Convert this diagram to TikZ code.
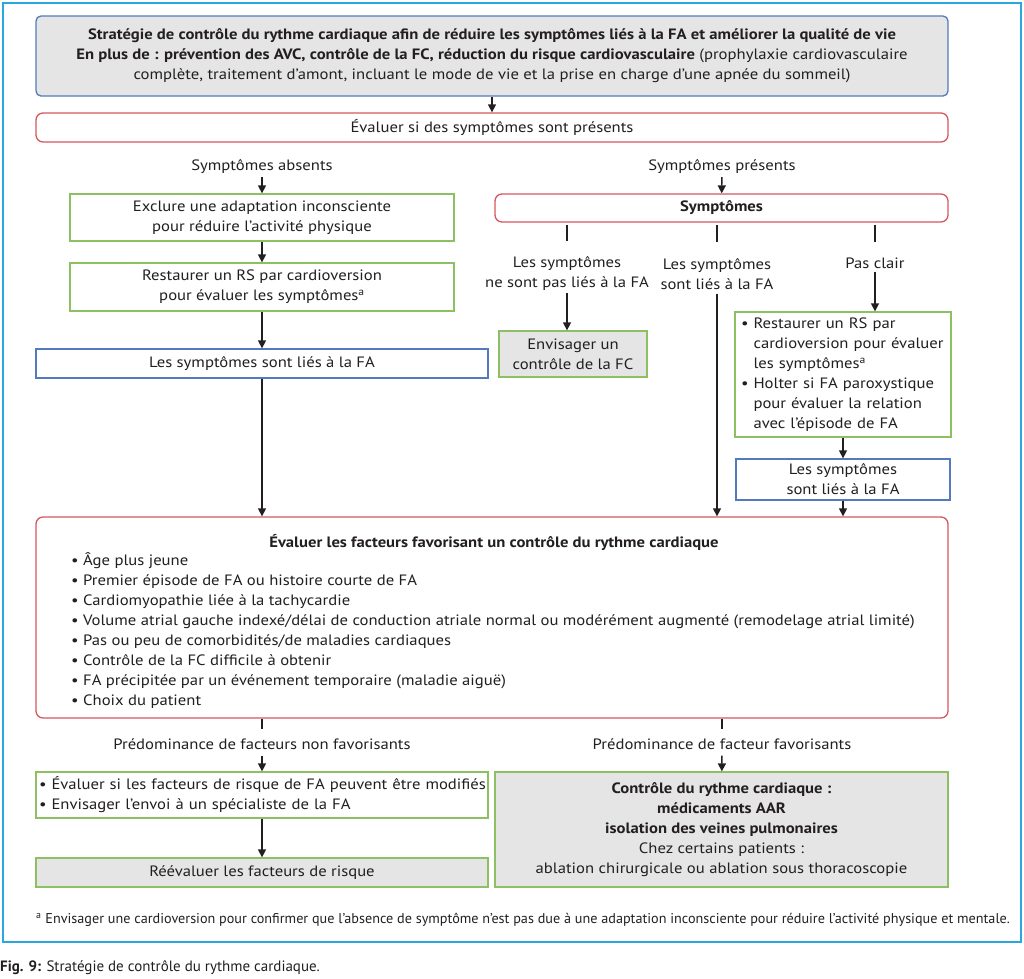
\documentclass[tikz,border=0pt]{standalone}
\usepackage{fontspec}
\setmainfont{PT Sans}[FakeStretch=1.11]
\newfontfamily\narrowfont{PT Sans}
\usetikzlibrary{arrows.meta}
\definecolor{framecyan}{HTML}{2BA6DE}
\definecolor{boxblue}{HTML}{5479BC}
\definecolor{boxred}{HTML}{D4575F}
\definecolor{boxgreen}{HTML}{8DC063}
\definecolor{boxgray}{HTML}{E5E5E6}
\definecolor{txt}{HTML}{231F20}
\tikzset{
  box/.style={draw, line width=1.3pt, inner sep=0pt, align=center, fill=white},
  redbox/.style={box, draw=boxred, rounded corners=7pt},
  bluebox/.style={box, draw=boxblue},
  greenbox/.style={box, draw=boxgreen},
  graybox/.style={box, draw=boxgreen, fill=boxgray},
  lab/.style={align=center, inner sep=0pt},
  conn/.style={line width=1.4pt, draw=txt},
  arr/.style={conn, -{Triangle[width=8pt,length=8pt]}},
}
\begin{document}
\begin{tikzpicture}[x=1pt,y=-1pt,font=\fontsize{15}{20}\selectfont,text=txt]
\useasboundingbox (0,0) rectangle (1024,978);
\draw[framecyan, line width=2.5pt] (3,3) rectangle (1021,942);

\node[bluebox, fill=boxgray, rounded corners=5pt, minimum width=912pt, minimum height=80pt] (strategie) at (492,56)
  {\textbf{Stratégie de contrôle du rythme cardiaque afin de réduire les symptômes liés à la FA et améliorer la qualité de vie}\\
   \textbf{En plus de : prévention des AVC, contrôle de la FC, réduction du risque cardiovasculaire} (prophylaxie cardiovasculaire\\
   complète, traitement d’amont, incluant le mode de vie et la prise en charge d’une apnée du sommeil)};
\node[redbox, minimum width=912pt, minimum height=29pt] (evaluer) at (492,127.5) {Évaluer si des symptômes sont présents};

\node[lab] (absents) at (262,167) {Symptômes absents};
\node[lab] (presents) at (722,167) {Symptômes présents};

% left branch
\node[greenbox, minimum width=384pt, minimum height=47pt] (exclure) at (262,217.5) {Exclure une adaptation inconsciente\\pour réduire l’activité physique};
\node[greenbox, minimum width=384pt, minimum height=48pt] (restaurer) at (262,287) {Restaurer un RS par cardioversion\\pour évaluer les symptômes\textsuperscript{a}};
\node[bluebox, minimum width=452pt, minimum height=29pt] (liesg) at (262,363.5) {Les symptômes sont liés à la FA};

% right branch
\node[redbox, minimum width=453pt, minimum height=28pt] (symptomes) at (721.5,208) {\textbf{Symptômes}};
\node[lab] (nonlies) at (567,274) {Les symptômes\\ne sont pas liés à la FA};
\node[lab] (lies) at (717,274) {Les symptômes\\sont liés à la FA};
\node[lab] (pasclair) at (875,263) {Pas clair};
\node[graybox, minimum width=148pt, minimum height=46pt] (envfc) at (573,354) {Envisager un\\contrôle de la FC};
\node[greenbox, text width=204pt, inner xsep=6pt, minimum height=125pt, align=left] (clair) at (843,374.5)
  {\begin{tabular}{@{}l@{\hspace{5pt}}l@{}}
   •&Restaurer un RS par\\
    &cardioversion pour évaluer\\
    &les symptômes\textsuperscript{a}\\
   •&Holter si FA paroxystique\\
    &pour évaluer la relation\\
    &avec l’épisode de FA
   \end{tabular}};
\node[bluebox, minimum width=214pt, minimum height=41pt] (liesd) at (843,479.5) {Les symptômes\\sont liés à la FA};

% facteurs
\node[redbox, minimum width=912pt, minimum height=201pt] (facteurs) at (492,617.5) {};
\node[lab] (facteurstitre) at (494,542) {\textbf{Évaluer les facteurs favorisant un contrôle du rythme cardiaque}};
\node[lab, anchor=north west, align=left] (facteursliste) at (71,552)
  {• Âge plus jeune\\
   • Premier épisode de FA ou histoire courte de FA\\
   • Cardiomyopathie liée à la tachycardie\\
   • Volume atrial gauche indexé/délai de conduction atriale normal ou modérément augmenté (remodelage atrial limité)\\
   • Pas ou peu de comorbidités/de maladies cardiaques\\
   • Contrôle de la FC difficile à obtenir\\
   • FA précipitée par un événement temporaire (maladie aiguë)\\
   • Choix du patient};

\node[lab] (nonfav) at (262,744) {Prédominance de facteurs non favorisants};
\node[lab] (fav) at (722,744) {Prédominance de facteur favorisants};
\node[greenbox, text width=446pt, inner xsep=3pt, minimum height=46pt, align=left] (modifies) at (262,795)
  {\begin{tabular}{@{}l@{}}
   • Évaluer si les facteurs de risque de FA peuvent être modifiés\\
   • Envisager l’envoi à un spécialiste de la FA
   \end{tabular}};
\node[graybox, minimum width=452pt, minimum height=29pt] (reevaluer) at (262,872.5) {Réévaluer les facteurs de risque};
\node[graybox, minimum width=453pt, minimum height=115pt] (controle) at (721.5,829.5)
  {\textbf{Contrôle du rythme cardiaque :}\\
   \textbf{médicaments AAR}\\
   \textbf{isolation des veines pulmonaires}\\
   Chez certains patients :\\
   ablation chirurgicale ou ablation sous thoracoscopie};

\node[lab, anchor=west, font=\narrowfont\fontsize{14.2}{16}\selectfont] (note) at (36,920)
  {\textsuperscript{a} Envisager une cardioversion pour confirmer que l’absence de symptôme n’est pas due à une adaptation inconsciente pour réduire l’activité physique et mentale.};
\node[lab, anchor=west, font=\narrowfont\fontsize{15}{16}\selectfont] (legende) at (0,968)
  {\textbf{Fig. 9:} Stratégie de contrôle du rythme cardiaque.};

\draw[arr] (strategie) -- (evaluer);
\draw[arr, shorten <=3pt] (absents) -- (exclure);
\draw[arr, shorten <=3pt] (presents) -- (symptomes);
\draw[arr] (exclure) -- (restaurer);
\draw[arr] (restaurer) -- (liesg);
\draw[arr] (liesg.south) -- (liesg.south |- facteurs.north);
\draw[conn, shorten <=2pt, shorten >=16pt] (symptomes.south -| nonlies.north) -- (nonlies.north);
\draw[conn, shorten <=2pt, shorten >=16pt] (symptomes.south -| lies.north) -- (lies.north);
\draw[conn, shorten <=2pt, shorten >=15pt] (symptomes.south -| pasclair.north) -- (pasclair.north);
\draw[arr, shorten <=2pt] (nonlies.south) -- (nonlies.south |- envfc.north);
\draw[arr, shorten <=4pt] (lies.south) -- (lies.south |- facteurs.north);
\draw[arr, shorten <=3pt] (pasclair.south) -- (pasclair.south |- clair.north);
\draw[arr] (clair) -- (liesd);
\draw[arr] (liesd) -- (liesd |- facteurs.north);
\draw[conn, shorten >=9pt] (facteurs.south -| nonfav.north) -- (nonfav.north);
\draw[conn, shorten >=9pt] (facteurs.south -| fav.north) -- (fav.north);
\draw[arr, shorten <=6pt] (nonfav) -- (modifies);
\draw[arr, shorten <=6pt] (fav) -- (controle);
\draw[arr] (modifies) -- (reevaluer);
\end{tikzpicture}
\end{document}
